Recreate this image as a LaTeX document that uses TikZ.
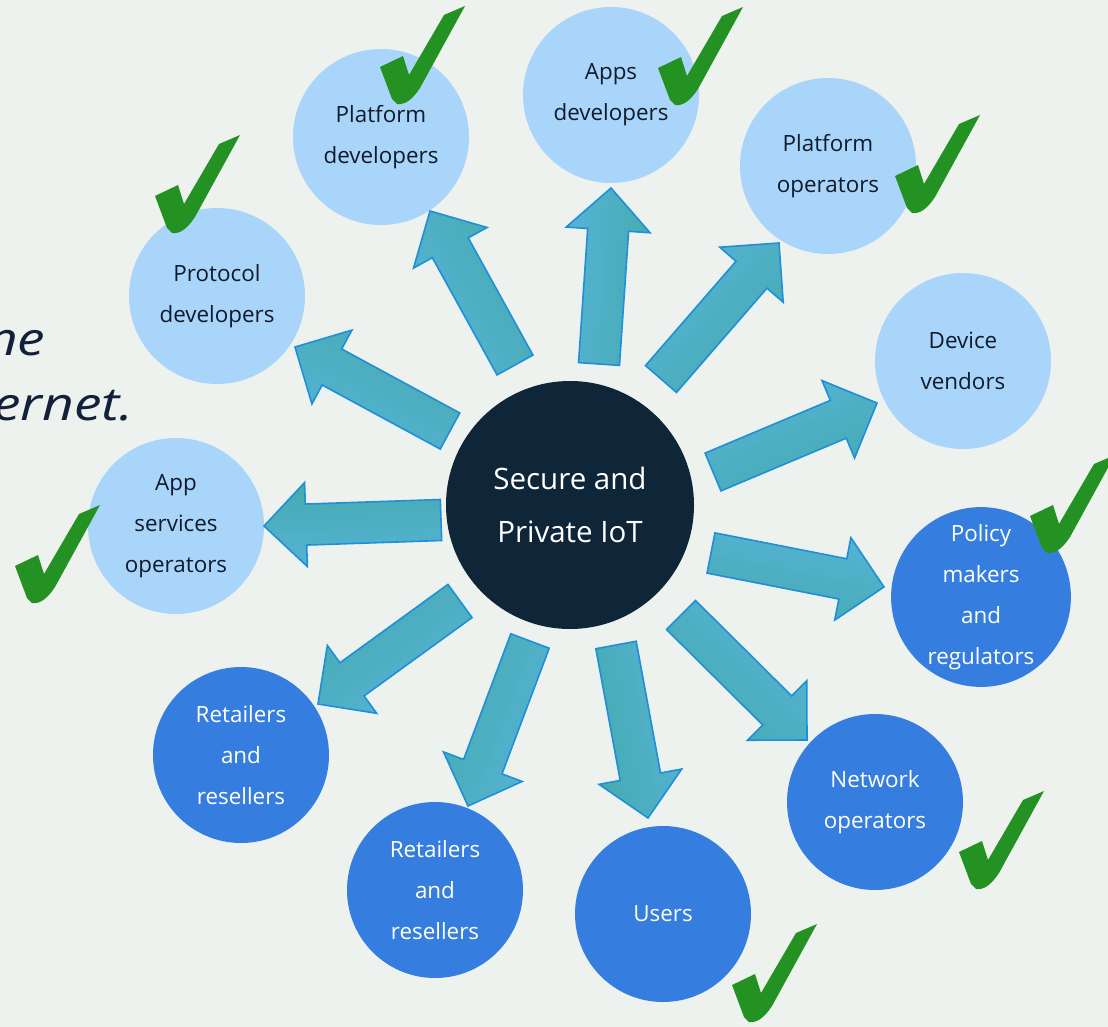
\documentclass[tikz,border=0pt]{standalone}
\usepackage{fontspec}
\setmainfont{Open Sans}
\newfontfamily\labelfont{Open Sans}
\newfontfamily\notefont{Open Sans}[FakeStretch=1.2]
\usetikzlibrary{calc}

\definecolor{paper}{HTML}{EDF2EE}
\definecolor{lightdisc}{HTML}{A9D5FA}
\definecolor{darkdisc}{HTML}{367DE0}
\definecolor{hubdisc}{HTML}{0F2639}
\definecolor{inktext}{HTML}{0F1B2B}
\definecolor{arrowblue}{HTML}{56B3D6}
\definecolor{arrowteal}{HTML}{45ABB0}
\definecolor{arrowline}{HTML}{1E8FD8}
\definecolor{checkgreen}{HTML}{239222}
\definecolor{notetext}{HTML}{13203A}

% block arrow from a tail coordinate to a tip coordinate
\newcommand\flowarrow[2]{%
  \pgfmathanglebetweenpoints{\pgfpointanchor{#1}{center}}{\pgfpointanchor{#2}{center}}%
  \let\flowangle\pgfmathresult
  \coordinate (#1-neck) at ($(#2)!42pt!(#1)$);
  \shade[flowbody, shading angle=\flowangle]
    ($(#1)!20.5pt!90:(#2)$) --
    ($(#1-neck)!20.5pt!-90:(#1)$) --
    ($(#1-neck)!42pt!-90:(#1)$) --
    (#2) --
    ($(#1-neck)!42pt!90:(#1)$) --
    ($(#1-neck)!20.5pt!90:(#1)$) --
    ($(#1)!20.5pt!-90:(#2)$) -- cycle;
}

\begin{document}
\begin{tikzpicture}[x=1pt,y=-1pt,
  stakeholder/.style={circle, minimum size=176pt, inner sep=0pt, align=center,
    font=\labelfont\fontsize{22.4}{41}\selectfont},
  lightrole/.style={stakeholder, fill=lightdisc, text=inktext},
  darkrole/.style={stakeholder, fill=darkdisc, text=white},
  hub/.style={circle, minimum size=248pt, inner sep=0pt, fill=hubdisc, text=white,
    align=center, font=\labelfont\fontsize{29.5}{53}\selectfont},
  flowbody/.style={draw=arrowline, line width=1.6pt, line join=miter,
    top color=arrowblue, bottom color=arrowteal},
  greentick/.pic={
    \fill[checkgreen] (0,0) -- (-5,-5) -- (-17,-37) -- (6,-48) -- (12,-29)
      -- (47,-89) -- (68,-98) -- (23,-16) .. controls (15,-4) and (8,1) .. cycle;
  },
  note/.style={anchor=base west, inner sep=0pt, text=notetext,
    font=\notefont\itshape\fontsize{46}{50}\selectfont}
]
\useasboundingbox (0,0) rectangle (1108,1027);
\clip (0,0) rectangle (1108,1027);
\fill[paper] (0,0) rectangle (1108,1027);

% handwritten fragments at the left edge
\node[note] (noteA) at (-14,355) {ne};
\node[note] (noteB) at (-7,420) {ernet.};

% stakeholder discs
\node[lightrole] (platdev)  at (381,137) {Platform\\developers};
\node[lightrole] (appdev)   at (611,95)  {Apps\\developers};
\node[lightrole] (platops)  at (828,166) {Platform\\operators};
\node[lightrole] (protodev) at (217,296) {Protocol\\developers};
\node[lightrole] (vendors)  at (963,361) {Device\\vendors};
\node[lightrole] (appsvc)   at (176,526) {App\\services\\operators};
\node[darkrole]  (policy)   at (981,597) {Policy\\makers\\and\\regulators};
\node[darkrole]  (retailA)  at (241,755) {Retailers\\and\\resellers};
\node[darkrole]  (retailB)  at (435,890) {Retailers\\and\\resellers};
\node[darkrole]  (users)    at (663,914) {Users};
\node[darkrole]  (netops)   at (875,802) {Network\\operators};

% central topic
\node[hub] (hub) at (570,505) {Secure and\\Private IoT};

% arrow tails and tips around the hub
\coordinate (tPlatdev)  at (515,365); \coordinate (hPlatdev)  at (430,211);
\coordinate (tAppdev)   at (599,364); \coordinate (hAppdev)   at (611,188);
\coordinate (tPlatops)  at (661,379); \coordinate (hPlatops)  at (779,243);
\coordinate (tVendors)  at (713,472); \coordinate (hVendors)  at (877,403);
\coordinate (tPolicy)   at (711,553); \coordinate (hPolicy)   at (884,587);
\coordinate (tNetops)   at (681,615); \coordinate (hNetops)   at (807,740);
\coordinate (tUsers)    at (616,645); \coordinate (hUsers)    at (648,818);
\coordinate (tRetailB)  at (530,641); \coordinate (hRetailB)  at (468,806);
\coordinate (tRetailA)  at (460,601); \coordinate (hRetailA)  at (318,704);
\coordinate (tAppsvc)   at (441,520); \coordinate (hAppsvc)   at (264,526);
\coordinate (tProtodev) at (450,431); \coordinate (hProtodev) at (295,347);

\flowarrow{tPlatdev}{hPlatdev}
\flowarrow{tAppdev}{hAppdev}
\flowarrow{tPlatops}{hPlatops}
\flowarrow{tVendors}{hVendors}
\flowarrow{tPolicy}{hPolicy}
\flowarrow{tNetops}{hNetops}
\flowarrow{tUsers}{hUsers}
\flowarrow{tRetailB}{hRetailB}
\flowarrow{tRetailA}{hRetailA}
\flowarrow{tAppsvc}{hAppsvc}
\flowarrow{tProtodev}{hProtodev}

% check marks
\pic at (397,104)  {greentick};
\pic at (675,105)  {greentick};
\pic at (912,213)  {greentick};
\pic at (172,233)  {greentick};
\pic at (32,603)   {greentick};
\pic at (1047,553) {greentick};
\pic at (976,889)  {greentick};
\pic at (749,1022) {greentick};
\end{tikzpicture}
\end{document}
